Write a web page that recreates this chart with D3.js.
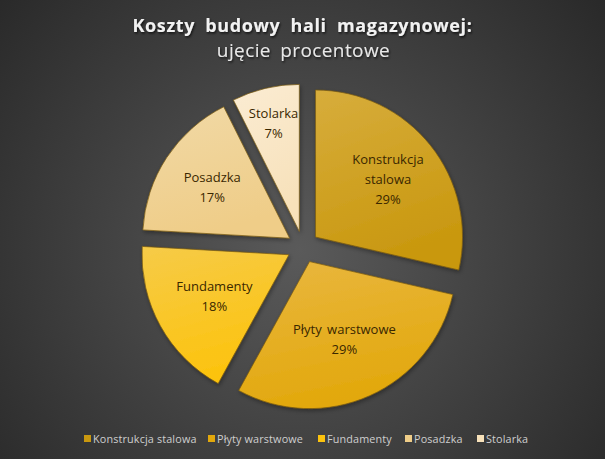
<!DOCTYPE html>
<html>
<head>
<meta charset="utf-8">
<script src="https://cdn.jsdelivr.net/npm/d3@7"></script>
<style>
  html, body { margin: 0; padding: 0; background: #333; }
  svg { display: block; }
  .title { font-family: "Open Sans", sans-serif; font-weight: 700; fill: #f2f2f2; }
  .subtitle { font-family: "Open Sans", sans-serif; fill: #e8e8e8; }
  .slice-label { font-family: "Open Sans", sans-serif; font-size: 13px; fill: #3a2700; }
  .legend-text { font-family: "Open Sans", sans-serif; font-size: 10.8px; fill: #cfcfcf; letter-spacing: 0.15px; }
</style>
</head>
<body>
<svg id="chart"></svg>
<script>
  // data
  const categories = ["Konstrukcja stalowa", "Płyty warstwowe", "Fundamenty", "Posadzka", "Stolarka"];
  const labelLines = [["Konstrukcja", "stalowa"], ["Płyty warstwowe"], ["Fundamenty"], ["Posadzka"], ["Stolarka"]];
  const shares = [28.6, 29.4, 17.9, 16.7, 7.4];
  const colors = ["#c9980f", "#e2a80c", "#fcc30e", "#efcd88", "#f7e1ba"];
  const colorsLight = ["#d7ad3c", "#e9b740", "#f6cb48", "#f1d9a6", "#fbecd3"];

  const W = 605, H = 459;
  const cx = 303, cy = 247;
  const r = 147;
  const explode = 16;

  const svg = d3.select("#chart").attr("width", W).attr("height", H);
  const defs = svg.append("defs");

  // background
  const bg = defs.append("radialGradient").attr("id", "bg")
    .attr("gradientUnits", "userSpaceOnUse")
    .attr("cx", 300).attr("cy", 250).attr("r", 420);
  bg.append("stop").attr("offset", "0%").attr("stop-color", "#5a5a5a");
  bg.append("stop").attr("offset", "100%").attr("stop-color", "#262626");
  svg.append("rect").attr("width", W).attr("height", H).attr("fill", "url(#bg)");

  const shadow = defs.append("filter").attr("id", "tshadow").attr("x", "-10%").attr("y", "-30%")
    .attr("width", "120%").attr("height", "160%");
  shadow.append("feDropShadow").attr("dx", 1).attr("dy", 1.5).attr("stdDeviation", 1.2)
    .attr("flood-color", "#000").attr("flood-opacity", 0.7);

  const sliceShadow = defs.append("filter").attr("id", "sshadow").attr("x", "-20%").attr("y", "-20%")
    .attr("width", "140%").attr("height", "140%");
  sliceShadow.append("feDropShadow").attr("dx", 1).attr("dy", 2).attr("stdDeviation", 2)
    .attr("flood-color", "#000").attr("flood-opacity", 0.35);

  colors.forEach((c, i) => {
    const g = defs.append("linearGradient").attr("id", "grad" + i)
      .attr("x1", "0%").attr("y1", "0%").attr("x2", "30%").attr("y2", "100%");
    g.append("stop").attr("offset", "0%").attr("stop-color", colorsLight[i]);
    g.append("stop").attr("offset", "100%").attr("stop-color", c);
  });

  // titles
  svg.append("text").attr("class", "title")
    .attr("x", W / 2).attr("y", 32).attr("text-anchor", "middle")
    .attr("font-size", 18).attr("word-spacing", 5).attr("letter-spacing", 0.6)
    .attr("filter", "url(#tshadow)")
    .text("Koszty budowy hali magazynowej:");
  svg.append("text").attr("class", "subtitle")
    .attr("x", W / 2 + 1).attr("y", 57).attr("text-anchor", "middle")
    .attr("font-size", 19).attr("word-spacing", 4).attr("letter-spacing", 0.4)
    .attr("filter", "url(#tshadow)")
    .text("ujęcie procentowe");

  // pie
  const pie = d3.pie().sort(null).value(d => d).startAngle(0).endAngle(2 * Math.PI);
  const arcs = pie(shares);
  const arc = d3.arc().innerRadius(0).outerRadius(r);

  const g = svg.append("g").attr("transform", `translate(${cx},${cy})`);

  const slices = g.selectAll("g.slice").data(arcs).join("g")
    .attr("class", "slice")
    .attr("transform", d => {
      const a = (d.startAngle + d.endAngle) / 2;
      return `translate(${Math.sin(a) * explode},${-Math.cos(a) * explode})`;
    });

  slices.append("path")
    .attr("d", arc)
    .attr("fill", (d, i) => `url(#grad${i})`)
    .attr("stroke", "#7a5a10")
    .attr("stroke-width", 0.7)
    .attr("filter", "url(#sshadow)");

  // labels: narrow slices push label outward, upper half sits a bit farther out
  slices.each(function (d, i) {
    const a = (d.startAngle + d.endAngle) / 2;
    const span = d.endAngle - d.startAngle;
    let lr = Math.cos(a) > 0 ? r * 0.63 : r * 0.58;
    if (span < 0.6) lr = r * 0.76;
    const lx = Math.sin(a) * lr;
    const ly = -Math.cos(a) * lr;
    const lines = labelLines[i].concat([Math.round(d.data) + "%"]);
    const lh = 20;
    const t = d3.select(this).append("text").attr("class", "slice-label")
      .attr("text-anchor", "middle");
    lines.forEach((line, k) => {
      t.append("tspan")
        .attr("x", lx)
        .attr("y", ly + (k - (lines.length - 1) / 2) * lh + 5)
        .attr("word-spacing", 2)
        .text(line);
    });
  });

  // legend
  const legend = svg.append("g").attr("transform", "translate(0,439)");
  const legendX = [84, 208, 318, 405, 477];
  categories.forEach((c, i) => {
    const item = legend.append("g").attr("transform", `translate(${legendX[i]},0)`);
    item.append("rect").attr("x", 0).attr("y", -4).attr("width", 7).attr("height", 7)
      .attr("fill", colors[i]);
    item.append("text").attr("class", "legend-text").attr("x", 9).attr("y", 3.5).text(c);
  });
</script>
</body>
</html>
